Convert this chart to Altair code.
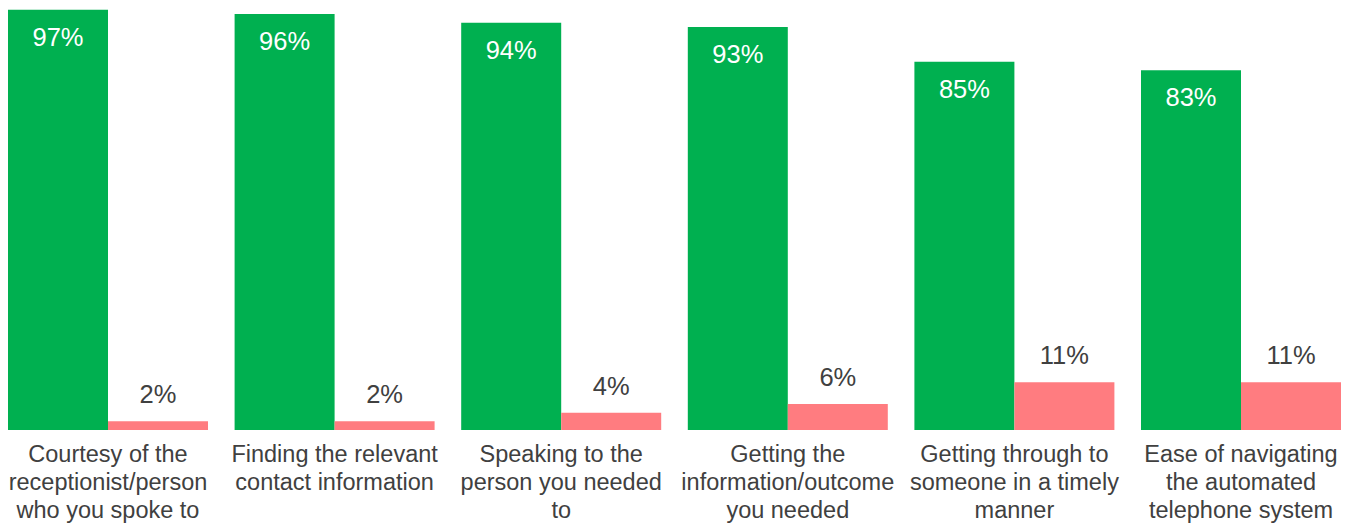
import altair as alt
import pandas as pd

categories = [
    "Courtesy of the|receptionist/person|who you spoke to",
    "Finding the relevant|contact information",
    "Speaking to the|person you needed|to",
    "Getting the|information/outcome|you needed",
    "Getting through to|someone in a timely|manner",
    "Ease of navigating|the automated|telephone system",
]
series = ["Satisfied", "Dissatisfied"]
satisfied = [97, 96, 94, 93, 85, 83]
dissatisfied = [2, 2, 4, 6, 11, 11]
colors = ["#00B050", "#FF7C80"]

rows = []
for c, s, d in zip(categories, satisfied, dissatisfied):
    rows.append({"category": c, "series": series[0], "value": s})
    rows.append({"category": c, "series": series[1], "value": d})
df = pd.DataFrame(rows)

font = "Liberation Sans"

x = alt.X(
    "category:N",
    sort=categories,
    scale=alt.Scale(paddingInner=0.1174, paddingOuter=0.0353),
    axis=alt.Axis(
        title=None, labelAngle=0, domain=False, ticks=False,
        labelExpr="split(datum.label, '|')",
        labelFontSize=23.5, labelLineHeight=28, labelColor="#404040",
        labelFont=font, labelPadding=12, labelBaseline="top", labelLimit=0,
    ),
)
xo = alt.XOffset("series:N", sort=series, scale=alt.Scale(paddingInner=0, paddingOuter=0))
y = alt.Y("value:Q", scale=alt.Scale(domain=[0, 99], nice=False), axis=None)

base = alt.Chart(df).transform_calculate(label="datum.value + '%'")

bars = base.mark_bar().encode(
    x=x, xOffset=xo, y=y,
    color=alt.Color("series:N", scale=alt.Scale(domain=series, range=colors), legend=None),
)

green_text = base.transform_filter(alt.datum.series == series[0]).mark_text(
    baseline="middle", dy=28, fontSize=25.5, font=font, color="white"
).encode(x=x, xOffset=xo, y=y, text="label:N")

red_text = base.transform_filter(alt.datum.series == series[1]).mark_text(
    baseline="middle", dy=-26, fontSize=25.5, font=font, color="#404040"
).encode(x=x, xOffset=xo, y=y, text="label:N")

chart = alt.layer(bars, green_text, red_text).properties(
    width=1349, height=429,
    autosize=alt.AutoSizeParams(type="none"),
    padding={"top": 1, "left": 0, "right": 6, "bottom": 93},
).configure_view(stroke=None)

chart.save("out.html", embed_options={"renderer": "svg", "actions": False})
